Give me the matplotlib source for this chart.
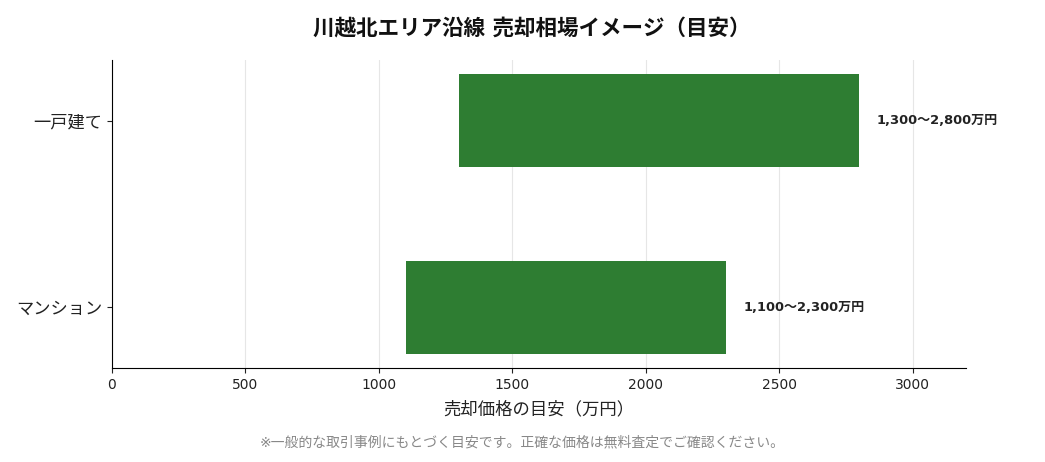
import matplotlib
matplotlib.use("Agg")
import matplotlib.pyplot as plt

plt.rcParams['font.family'] = ['DejaVu Sans', 'Noto Sans CJK JP']

# data
categories = ['一戸建て', 'マンション']
low = [1300, 1100]
high = [2800, 2300]
labels = ['1,300〜2,800万円', '1,100〜2,300万円']

fig = plt.figure(figsize=(10.45, 4.62), dpi=100)
ax = fig.add_axes([112 / 1045, 1 - 368 / 462, 854 / 1045, 308 / 462])

widths = [h - l for h, l in zip(high, low)]
ax.barh(categories, widths, left=low, height=0.5, color='#2e7d32', zorder=3)
ax.invert_yaxis()

for i, (h, txt) in enumerate(zip(high, labels)):
    ax.text(h + 65, i, txt, va='center', ha='left', fontsize=9.4,
            fontweight='bold', color='#222222')

ax.set_xlim(0, 3200)
ax.set_xticks([0, 500, 1000, 1500, 2000, 2500, 3000])
ax.grid(axis='x', color='#e6e6e6', linewidth=0.8, zorder=0)
ax.spines['top'].set_visible(False)
ax.spines['right'].set_visible(False)
ax.tick_params(axis='x', labelsize=10, colors='#222222')
ax.tick_params(axis='y', labelsize=12.4, colors='#222222')
ax.set_xlabel('売却価格の目安（万円）', fontsize=12.5, color='#222222', labelpad=6)

fig.text(532 / 1045, 1 - 29 / 462, '川越北エリア沿線 売却相場イメージ（目安）', ha='center', va='center',
         fontsize=15.5, fontweight='bold', color='#111111')
fig.text(0.5, 1 - 442 / 462, '※一般的な取引事例にもとづく目安です。正確な価格は無料査定でご確認ください。',
         ha='center', va='center', fontsize=10, color='#888888')

fig.savefig('out.png', dpi=100)
